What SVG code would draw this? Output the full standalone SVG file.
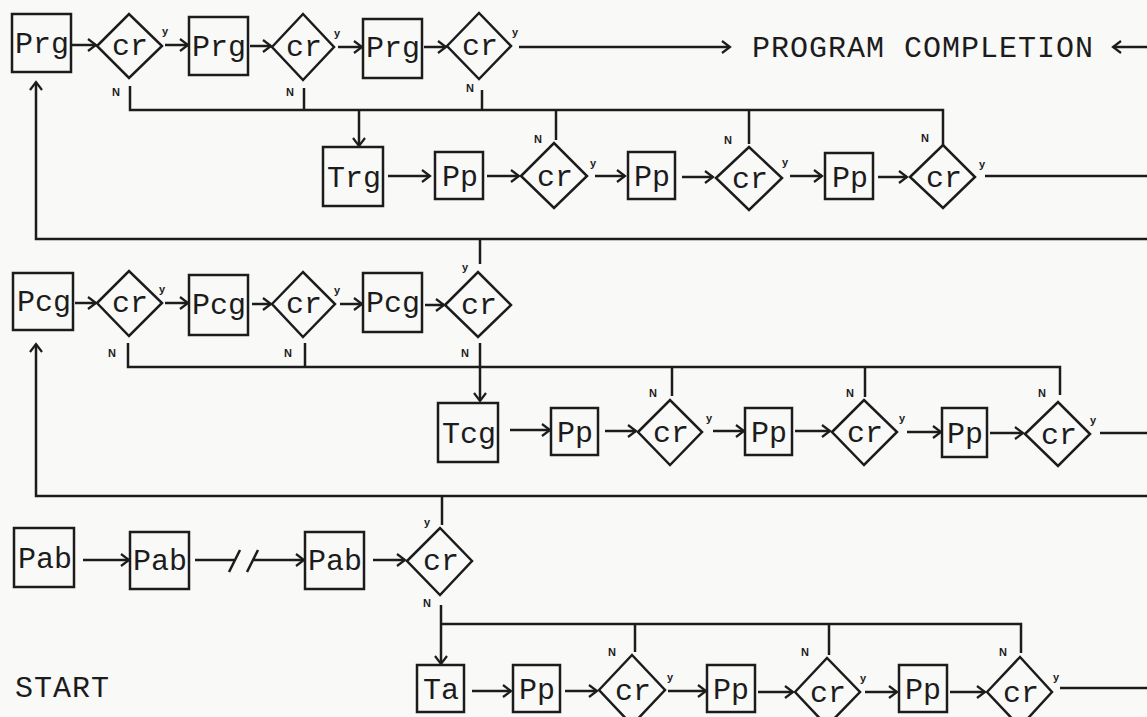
<svg xmlns="http://www.w3.org/2000/svg" width="1147" height="717" viewBox="0 0 1147 717">
<style>
.b{fill:none;stroke:#1c1c1c;stroke-width:2.5}
.t{font-family:"Liberation Mono",monospace;font-size:30px;fill:#1c1c1c;text-anchor:middle}
.big{font-family:"Liberation Mono",monospace;font-size:30px;fill:#1c1c1c;letter-spacing:1px}
.l{font-family:"Liberation Sans",sans-serif;font-size:11px;font-weight:bold;fill:#1c1c1c}
.c{fill:none;stroke:#1c1c1c;stroke-width:2.5}
.a{marker-end:url(#ah)}
</style>
<defs>
<marker id="ah" markerUnits="userSpaceOnUse" markerWidth="14" markerHeight="14" refX="11" refY="7" orient="auto">
<path d="M3,1 L11,7 L3,13" fill="none" stroke="#1c1c1c" stroke-width="2.2"/>
</marker>
</defs>
<rect width="1147" height="717" fill="#f9f9f8"/>

<g id="connectors">
<!-- row 1 -->
<path class="c a" d="M71,45 H96"/>
<path class="c a" d="M165,45 H188"/>
<path class="c a" d="M250,46 H271"/>
<path class="c a" d="M338,47 H362"/>
<path class="c a" d="M424,47 H446"/>
<path class="c a" d="M519,47 H730"/>
<path class="c a" d="M1147,47 H1113"/>
<path class="c" d="M130,86 V110 H943 V145"/>
<path class="c" d="M304,88 V110"/>
<path class="c" d="M482,90 V110"/>
<path class="c" d="M556,110 V140"/>
<path class="c" d="M749,110 V144"/>
<path class="c a" d="M359,110 V146"/>
<!-- row 2 -->
<path class="c a" d="M388,176 H430"/>
<path class="c a" d="M487,176 H519"/>
<path class="c a" d="M595,176 H625"/>
<path class="c a" d="M682,177 H713"/>
<path class="c a" d="M790,176 H822"/>
<path class="c a" d="M878,177 H907"/>
<path class="c" d="M985,176 H1147"/>
<!-- loop 1 -->
<path class="c a" d="M1147,239 H36 V82"/>
<path class="c" d="M480,239 V264"/>
<!-- row 3 -->
<path class="c a" d="M75,303 H96"/>
<path class="c a" d="M165,303 H188"/>
<path class="c a" d="M252,304 H271"/>
<path class="c a" d="M340,304 H362"/>
<path class="c a" d="M425,305 H444"/>
<path class="c" d="M128,343 V367 H1060 V395"/>
<path class="c" d="M305,343 V367"/>
<path class="c a" d="M480,343 V401"/>
<path class="c" d="M672,367 V396"/>
<path class="c" d="M865,367 V397"/>
<!-- row 4 -->
<path class="c a" d="M510,430 H550"/>
<path class="c a" d="M605,431 H636"/>
<path class="c a" d="M713,431 H744"/>
<path class="c a" d="M795,431 H830"/>
<path class="c a" d="M907,432 H941"/>
<path class="c a" d="M990,433 H1023"/>
<path class="c" d="M1100,433 H1147"/>
<!-- loop 2 -->
<path class="c a" d="M1147,496 H36 V344"/>
<path class="c" d="M442,496 V525"/>
<!-- row 5 -->
<path class="c a" d="M83,560 H129"/>
<path class="c" d="M195,560 H234"/>
<path class="c" d="M229,572 L240,550"/>
<path class="c" d="M247,572 L258,550"/>
<path class="c a" d="M252,560 H304"/>
<path class="c a" d="M373,560 H405"/>
<path class="c a" d="M441,605 V664"/>
<path class="c" d="M441,624 H1021 V653"/>
<path class="c" d="M635,624 V652"/>
<path class="c" d="M829,624 V655"/>
<!-- row 6 -->
<path class="c a" d="M472,691 H511"/>
<path class="c a" d="M565,691 H597"/>
<path class="c a" d="M668,691 H706"/>
<path class="c a" d="M758,692 H793"/>
<path class="c a" d="M865,692 H897"/>
<path class="c a" d="M950,692 H985"/>
<path class="c" d="M1060,688 H1147"/>
</g>

<!-- row 1 nodes -->
<g id="prg1"><rect class="b" x="12" y="14" width="59" height="58"/><text class="t" x="42" y="53">Prg</text></g>
<g id="cr1"><polygon class="b" points="97,46 129,14 162,46 129,78"/><text class="t" x="130" y="55">cr</text><text class="l" x="162" y="35">y</text><text class="l" x="112" y="96">N</text></g>
<g id="prg2"><rect class="b" x="189" y="17" width="59" height="58"/><text class="t" x="219" y="56">Prg</text></g>
<g id="cr2"><polygon class="b" points="272,47 303,14 334,47 303,80"/><text class="t" x="304" y="56">cr</text><text class="l" x="334" y="37">y</text><text class="l" x="286" y="96">N</text></g>
<g id="prg3"><rect class="b" x="363" y="19" width="59" height="59"/><text class="t" x="393" y="57">Prg</text></g>
<g id="cr3"><polygon class="b" points="447,46 479,13 511,46 479,79"/><text class="t" x="480" y="55">cr</text><text class="l" x="512" y="36">y</text><text class="l" x="466" y="92">N</text></g>
<g id="completion"><text class="big" x="752" y="57">PROGRAM COMPLETION</text></g>

<!-- row 2 nodes -->
<g id="trg"><rect class="b" x="323" y="147" width="60" height="59"/><text class="t" x="354" y="187">Trg</text></g>
<g id="pp1"><rect class="b" x="435" y="152" width="48" height="47"/><text class="t" x="460" y="186">Pp</text></g>
<g id="cr4"><polygon class="b" points="521,176 554,143 587,176 554,208"/><text class="t" x="555" y="186">cr</text><text class="l" x="534" y="143">N</text><text class="l" x="590" y="167">y</text></g>
<g id="pp2"><rect class="b" x="628" y="152" width="47" height="47"/><text class="t" x="652" y="186">Pp</text></g>
<g id="cr5"><polygon class="b" points="716,178 749,147 782,178 749,210"/><text class="t" x="750" y="188">cr</text><text class="l" x="724" y="144">N</text><text class="l" x="782" y="166">y</text></g>
<g id="pp3"><rect class="b" x="825" y="153" width="48" height="46"/><text class="t" x="850" y="187">Pp</text></g>
<g id="cr6"><polygon class="b" points="910,177 943,145 975,177 943,208"/><text class="t" x="944" y="187">cr</text><text class="l" x="921" y="142">N</text><text class="l" x="979" y="168">y</text></g>

<!-- row 3 nodes -->
<g id="pcg1"><rect class="b" x="13" y="273" width="60" height="57"/><text class="t" x="44" y="311">Pcg</text></g>
<g id="cr7"><polygon class="b" points="97,303 129,271 162,303 129,336"/><text class="t" x="130" y="312">cr</text><text class="l" x="159" y="293">y</text><text class="l" x="108" y="357">N</text></g>
<g id="pcg2"><rect class="b" x="189" y="275" width="59" height="60"/><text class="t" x="219" y="314">Pcg</text></g>
<g id="cr8"><polygon class="b" points="272,304 303,272 335,304 303,337"/><text class="t" x="304" y="313">cr</text><text class="l" x="334" y="294">y</text><text class="l" x="284" y="357">N</text></g>
<g id="pcg3"><rect class="b" x="363" y="273" width="59" height="59"/><text class="t" x="393" y="312">Pcg</text></g>
<g id="cr9"><polygon class="b" points="445,305 478,272 511,305 478,337"/><text class="t" x="479" y="314">cr</text><text class="l" x="462" y="271">y</text><text class="l" x="461" y="357">N</text></g>

<!-- row 4 nodes -->
<g id="tcg"><rect class="b" x="438" y="403" width="60" height="59"/><text class="t" x="469" y="443">Tcg</text></g>
<g id="pp4"><rect class="b" x="551" y="408" width="47" height="47"/><text class="t" x="575" y="442">Pp</text></g>
<g id="cr10"><polygon class="b" points="638,432 670,400 702,432 670,465"/><text class="t" x="671" y="442">cr</text><text class="l" x="649" y="397">N</text><text class="l" x="706" y="422">y</text></g>
<g id="pp5"><rect class="b" x="745" y="408" width="47" height="47"/><text class="t" x="769" y="442">Pp</text></g>
<g id="cr11"><polygon class="b" points="832,432 864,400 897,432 864,465"/><text class="t" x="865" y="442">cr</text><text class="l" x="846" y="397">N</text><text class="l" x="899" y="422">y</text></g>
<g id="pp6"><rect class="b" x="942" y="408" width="45" height="49"/><text class="t" x="965" y="443">Pp</text></g>
<g id="cr12"><polygon class="b" points="1025,434 1058,402 1090,434 1058,466"/><text class="t" x="1059" y="444">cr</text><text class="l" x="1038" y="397">N</text><text class="l" x="1090" y="424">y</text></g>

<!-- row 5 nodes -->
<g id="pab1"><rect class="b" x="14" y="528" width="60" height="59"/><text class="t" x="45" y="568">Pab</text></g>
<g id="pab2"><rect class="b" x="130" y="532" width="59" height="57"/><text class="t" x="160" y="570">Pab</text></g>
<g id="pab3"><rect class="b" x="305" y="532" width="59" height="57"/><text class="t" x="335" y="570">Pab</text></g>
<g id="cr13"><polygon class="b" points="407,561 440,528 472,561 440,595"/><text class="t" x="441" y="570">cr</text><text class="l" x="424" y="526">y</text><text class="l" x="423" y="607">N</text></g>

<!-- row 6 nodes -->
<g id="ta"><rect class="b" x="417" y="665" width="47" height="47"/><text class="t" x="441" y="699">Ta</text></g>
<g id="pp7"><rect class="b" x="513" y="665" width="47" height="47"/><text class="t" x="537" y="699">Pp</text></g>
<g id="cr14"><polygon class="b" points="599,690 632,655 665,690 632,725"/><text class="t" x="633" y="700">cr</text><text class="l" x="608" y="656">N</text><text class="l" x="667" y="681">y</text></g>
<g id="pp8"><rect class="b" x="707" y="665" width="48" height="47"/><text class="t" x="731" y="699">Pp</text></g>
<g id="cr15"><polygon class="b" points="795,692 827,658 860,692 827,726"/><text class="t" x="828" y="702">cr</text><text class="l" x="801" y="656">N</text><text class="l" x="860" y="682">y</text></g>
<g id="pp9"><rect class="b" x="899" y="665" width="48" height="47"/><text class="t" x="923" y="699">Pp</text></g>
<g id="cr16"><polygon class="b" points="987,692 1020,657 1052,692 1020,727"/><text class="t" x="1021" y="702">cr</text><text class="l" x="999" y="656">N</text><text class="l" x="1053" y="681">y</text></g>
<g id="start"><text class="big" x="15" y="697">START</text></g>
</svg>
